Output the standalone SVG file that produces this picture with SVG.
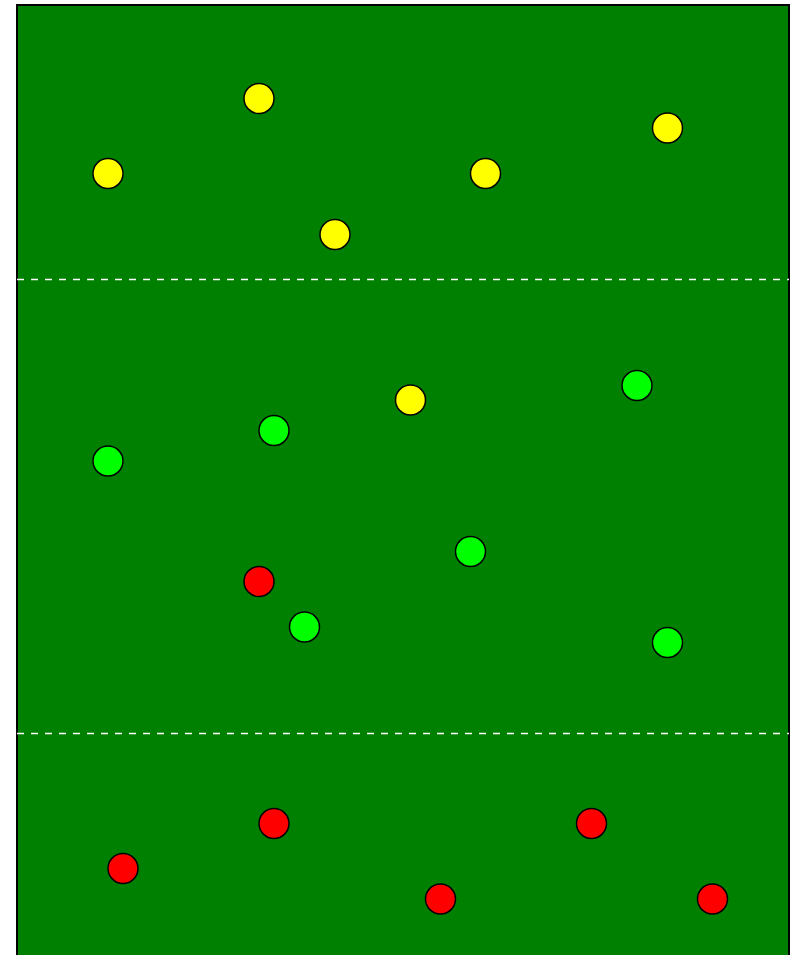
<svg xmlns="http://www.w3.org/2000/svg" width="793" height="955" viewBox="0 0 793 955">
<style>
.field{fill:#008000;stroke:#000;stroke-width:2}
.zone{stroke:#fff;stroke-width:1.5;stroke-dasharray:7,7;fill:none}
.b{stroke:#000;stroke-width:1.5}
.y{fill:#ffff00}
.g{fill:#00ff00}
.r{fill:#ff0000}
</style>
<rect class="field" x="17" y="5" width="772" height="960"/>
<line class="zone" x1="17" y1="279.5" x2="789" y2="279.5"/>
<line class="zone" x1="17" y1="733.5" x2="789" y2="733.5"/>
<g id="yellow">
<circle class="b y" cx="259" cy="98.5" r="15"/>
<circle class="b y" cx="108" cy="173.5" r="15"/>
<circle class="b y" cx="485.5" cy="173.5" r="15"/>
<circle class="b y" cx="335" cy="234.5" r="15"/>
<circle class="b y" cx="667.5" cy="128" r="15"/>
<circle class="b y" cx="410.5" cy="400" r="15"/>
</g>
<g id="green">
<circle class="b g" cx="108" cy="461" r="15"/>
<circle class="b g" cx="274" cy="430.5" r="15"/>
<circle class="b g" cx="637" cy="385.5" r="15"/>
<circle class="b g" cx="470.5" cy="551.5" r="15"/>
<circle class="b g" cx="304.5" cy="627" r="15"/>
<circle class="b g" cx="667.5" cy="642.5" r="15"/>
</g>
<g id="red">
<circle class="b r" cx="259" cy="581.5" r="15"/>
<circle class="b r" cx="274" cy="823.5" r="15"/>
<circle class="b r" cx="123" cy="868.5" r="15"/>
<circle class="b r" cx="440.5" cy="899" r="15"/>
<circle class="b r" cx="591.5" cy="823.5" r="15"/>
<circle class="b r" cx="712.5" cy="899" r="15"/>
</g>
</svg>
